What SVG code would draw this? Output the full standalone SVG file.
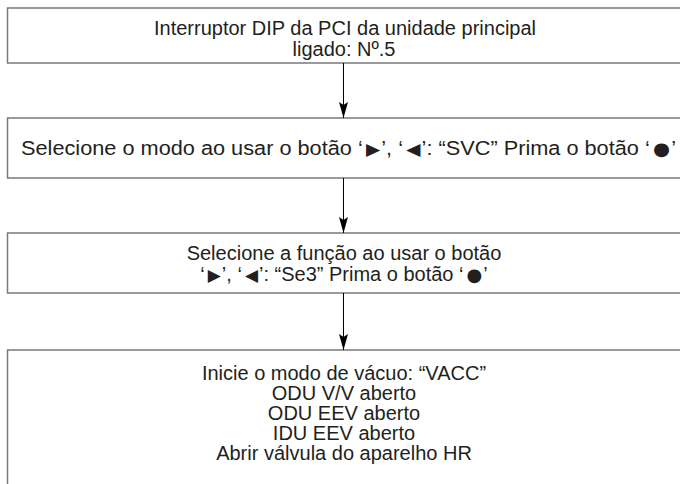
<svg xmlns="http://www.w3.org/2000/svg" width="680" height="484" viewBox="0 0 680 484">
<style>
.box{fill:#fff;stroke:#7a7a7a;stroke-width:1.5}
.t{font-family:"Liberation Sans","DejaVu Sans",sans-serif;font-size:20px;fill:#231f20;text-anchor:middle}
.s{font-family:"DejaVu Sans",sans-serif;font-size:17px}
.d{font-family:"DejaVu Sans",sans-serif;font-size:18px}
.c{stroke:#000;stroke-width:1;fill:none}
</style>
<defs>
<marker id="ah" viewBox="0 0 16 9" refX="16" refY="4.5" markerWidth="16" markerHeight="9" markerUnits="userSpaceOnUse" orient="auto">
<path d="M0,0 L16,4.5 L0,9 L3,4.5 Z" fill="#000"/>
</marker>
</defs>
<rect width="680" height="484" fill="#fff"/>
<g id="n1">
<rect class="box" x="7.5" y="8" width="690" height="55"/>
<text class="t" x="345" y="35">Interruptor DIP da PCI da unidade principal</text>
<text class="t" x="344" y="56">ligado: Nº.5</text>
</g>
<g id="n2">
<rect class="box" x="7.5" y="118" width="690" height="60"/>
<text class="t" x="348.5" y="155" textLength="655" lengthAdjust="spacingAndGlyphs">Selecione o modo ao usar o botão ‘<tspan class="s" dx="3">▶</tspan><tspan dx="1">’</tspan>, ‘<tspan class="s" dx="3">◀</tspan><tspan dx="1">’</tspan>: “SVC” Prima o botão ‘<tspan class="d" dx="3">●</tspan><tspan dx="1">’</tspan></text>
</g>
<g id="n3">
<rect class="box" x="7.5" y="233" width="690" height="60"/>
<text class="t" x="344" y="260">Selecione a função ao usar o botão</text>
<text class="t" x="344" y="281">‘<tspan class="s" dx="3">▶</tspan><tspan dx="1">’</tspan>, ‘<tspan class="s" dx="3">◀</tspan><tspan dx="1">’</tspan>: “Se3” Prima o botão ‘<tspan class="d" dx="3">●</tspan><tspan dx="1">’</tspan></text>
</g>
<g id="n4">
<rect class="box" x="7.5" y="350" width="690" height="150"/>
<text class="t" x="344" y="380">Inicie o modo de vácuo: “VACC”</text>
<text class="t" x="344" y="400">ODU V/V aberto</text>
<text class="t" x="344" y="420">ODU EEV aberto</text>
<text class="t" x="344" y="440">IDU EEV aberto</text>
<text class="t" x="344" y="460">Abrir válvula do aparelho HR</text>
</g>
<g id="connectors">
<line class="c" x1="343.5" y1="63" x2="343.5" y2="118" marker-end="url(#ah)"/>
<line class="c" x1="343.5" y1="178" x2="343.5" y2="233" marker-end="url(#ah)"/>
<line class="c" x1="343.5" y1="293" x2="343.5" y2="350" marker-end="url(#ah)"/>
</g>
</svg>
